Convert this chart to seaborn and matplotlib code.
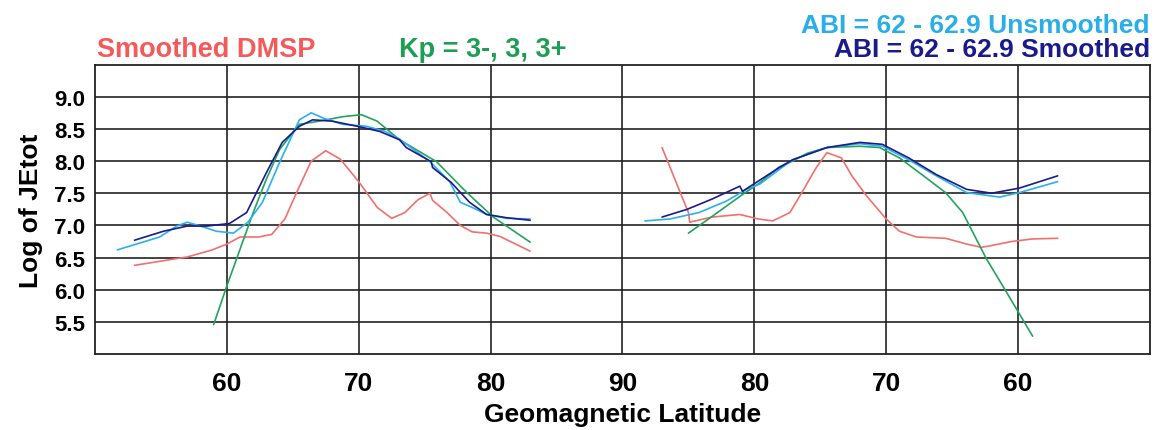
"""
plot.py
-------
Log of JEtot vs geomagnetic latitude (dayside left, nightside right),
DMSP vs ABI model curves. Saves out.png.
"""

import matplotlib

matplotlib.use("Agg")
import matplotlib.pyplot as plt
import seaborn as sns

# ---- left half (latitude increasing 50 -> 90) ----
DMSP_L_LAT = [53.0, 57.0, 58.9, 60.0, 61.0, 62.4, 63.4, 64.4, 65.4, 66.4, 67.5, 68.6, 70.0,
              71.4, 72.5, 73.5, 74.5, 75.4, 75.6, 76.7, 77.7, 78.6, 79.7, 80.7, 81.7, 83.0]
DMSP_L_LOG = [6.38, 6.51, 6.62, 6.71, 6.82, 6.82, 6.86, 7.10, 7.56, 8.00, 8.16, 8.03, 7.68,
              7.28, 7.11, 7.20, 7.40, 7.50, 7.39, 7.20, 7.00, 6.90, 6.88, 6.83, 6.73, 6.60]

KP_L_LAT = [59.0, 60.0, 61.0, 62.0, 63.0, 64.0, 65.5, 67.0, 68.8, 70.2, 71.4, 73.1,
            75.9, 78.2, 80.2, 83.0]
KP_L_LOG = [5.46, 6.06, 6.63, 7.20, 7.72, 8.18, 8.57, 8.62, 8.69, 8.72, 8.62, 8.33,
            7.99, 7.51, 7.13, 6.74]

UNSM_L_LAT = [51.7, 54.9, 56.2, 57.0, 58.0, 59.2, 60.5, 61.6, 62.7, 64.0, 65.5, 66.4, 67.4,
              68.8, 70.6, 72.0, 73.1, 75.4, 76.9, 77.7, 78.6, 79.7, 81.2, 83.0]
UNSM_L_LOG = [6.62, 6.82, 6.99, 7.05, 6.99, 6.91, 6.88, 7.05, 7.36, 7.98, 8.64, 8.75, 8.66,
              8.57, 8.54, 8.46, 8.34, 7.99, 7.68, 7.36, 7.28, 7.17, 7.11, 7.10]

SM_L_LAT = [53.0, 55.2, 57.0, 58.5, 60.2, 61.5, 63.0, 64.2, 65.5, 66.5, 68.0, 69.9, 71.6,
            73.1, 73.6, 75.5, 75.6, 77.0, 78.4, 79.7, 81.2, 83.0]
SM_L_LOG = [6.77, 6.91, 6.99, 6.99, 7.03, 7.20, 7.82, 8.29, 8.54, 8.64, 8.62, 8.54, 8.46,
            8.33, 8.21, 7.99, 7.90, 7.67, 7.36, 7.17, 7.12, 7.08]

# ---- right half (latitude decreasing 90 -> 50) ----
DMSP_R_LAT = [87.0, 85.0, 84.9, 83.2, 81.1, 79.7, 78.6, 77.3, 76.4, 75.3, 74.5, 73.4, 72.6,
              71.5, 70.0, 69.0, 67.7, 65.5, 63.9, 62.8, 62.2, 60.5, 58.9, 57.0]
DMSP_R_LOG = [8.21, 7.20, 7.05, 7.13, 7.17, 7.10, 7.07, 7.20, 7.51, 7.90, 8.13, 8.05, 7.77,
              7.46, 7.10, 6.91, 6.82, 6.80, 6.71, 6.66, 6.68, 6.75, 6.79, 6.80]

KP_R_LAT = [85.0, 83.2, 80.9, 79.6, 78.1, 77.1, 76.0, 74.5, 72.0, 70.5, 69.0, 67.3, 65.5,
            64.2, 62.4, 60.9, 58.9]
KP_R_LOG = [6.88, 7.14, 7.48, 7.66, 7.91, 8.00, 8.12, 8.21, 8.23, 8.21, 8.05, 7.79, 7.51,
            7.20, 6.48, 5.97, 5.28]

UNSM_R_LAT = [88.3, 86.4, 84.2, 82.1, 80.6, 79.6, 78.1, 77.1, 74.5, 72.0, 70.3, 68.3, 66.2,
              63.9, 61.4, 59.9, 57.0]
UNSM_R_LOG = [7.07, 7.10, 7.20, 7.38, 7.56, 7.64, 7.87, 8.02, 8.21, 8.27, 8.23, 8.02, 7.77,
              7.51, 7.44, 7.51, 7.68]

SM_R_LAT = [87.0, 85.1, 83.2, 81.1, 80.9, 78.1, 77.1, 74.5, 72.0, 70.3, 68.3, 66.2, 63.9,
            62.0, 59.9, 57.0]
SM_R_LOG = [7.13, 7.25, 7.41, 7.61, 7.53, 7.90, 8.02, 8.21, 8.29, 8.26, 8.05, 7.79, 7.56,
            7.50, 7.58, 7.77]

TICK_POS = [60, 70, 80, 90, 100, 110, 120]
TICK_LABELS = ["60", "70", "80", "90", "80", "70", "60"]
Y_TICKS = [5.5, 6.0, 6.5, 7.0, 7.5, 8.0, 8.5, 9.0]

RED = "#f0706e"
GREEN = "#24a35c"
LIGHT_BLUE = "#2ab0ec"
NAVY = "#1c1a8e"


def night(lats):
    # fold nightside latitude onto the continuous axis (90 -> 50 maps to 90 -> 130)
    return [180 - v for v in lats]


sns.set_theme(style="white")
plt.rcParams["font.family"] = ["Liberation Sans", "DejaVu Sans"]
plt.rcParams["font.weight"] = "bold"

fig = plt.figure(figsize=(11.61, 4.31), dpi=100)
ax = fig.add_axes([0.0818, 0.176, 0.9087, 0.672])

series = [
    (DMSP_L_LAT, DMSP_L_LOG, DMSP_R_LAT, DMSP_R_LOG, RED),
    (KP_L_LAT, KP_L_LOG, KP_R_LAT, KP_R_LOG, GREEN),
    (UNSM_L_LAT, UNSM_L_LOG, UNSM_R_LAT, UNSM_R_LOG, LIGHT_BLUE),
    (SM_L_LAT, SM_L_LOG, SM_R_LAT, SM_R_LOG, NAVY),
]
for lx, ly, rx, ry, col in series:
    sns.lineplot(x=lx, y=ly, color=col, lw=1.2, sort=False, ax=ax)
    sns.lineplot(x=night(rx), y=ry, color=col, lw=1.2, sort=False, ax=ax)

ax.set_xlim(50, 130)
ax.set_ylim(5.0, 9.5)
ax.set_xticks(TICK_POS)
ax.set_xticklabels(TICK_LABELS, fontsize=19, fontweight="bold", color="black")
ax.set_yticks(Y_TICKS)
ax.set_yticklabels([f"{v:.1f}" for v in Y_TICKS], fontsize=16, fontweight="bold",
                   color="black")
ax.tick_params(axis="x", length=0, pad=12)
ax.tick_params(axis="y", length=0, pad=7)
ax.grid(True, color="#222222", lw=1.2)
ax.set_axisbelow(True)
for sp in ax.spines.values():
    sp.set_color("#222222")
    sp.set_linewidth(1.3)

ax.set_xlabel("Geomagnetic Latitude", fontsize=19, fontweight="bold", labelpad=5,
              color="black")
ax.set_ylabel("Log of JEtot", fontsize=19, fontweight="bold", labelpad=8, color="black")

fig.text(0.0835, 0.868, "Smoothed DMSP", color="#f55a5a", fontsize=19.5,
         fontweight="bold", va="baseline")
fig.text(0.344, 0.868, "Kp = 3-, 3, 3+", color="#1e9e55", fontsize=19.5,
         fontweight="bold", va="baseline")
fig.text(0.9905, 0.923, "ABI = 62 - 62.9 Unsmoothed", color="#29aee8", fontsize=19,
         fontweight="bold", ha="right", va="baseline")
fig.text(0.9905, 0.868, "ABI = 62 - 62.9 Smoothed", color="#1a1a8c", fontsize=19,
         fontweight="bold", ha="right", va="baseline")

fig.savefig("out.png", dpi=100)
plt.close(fig)
